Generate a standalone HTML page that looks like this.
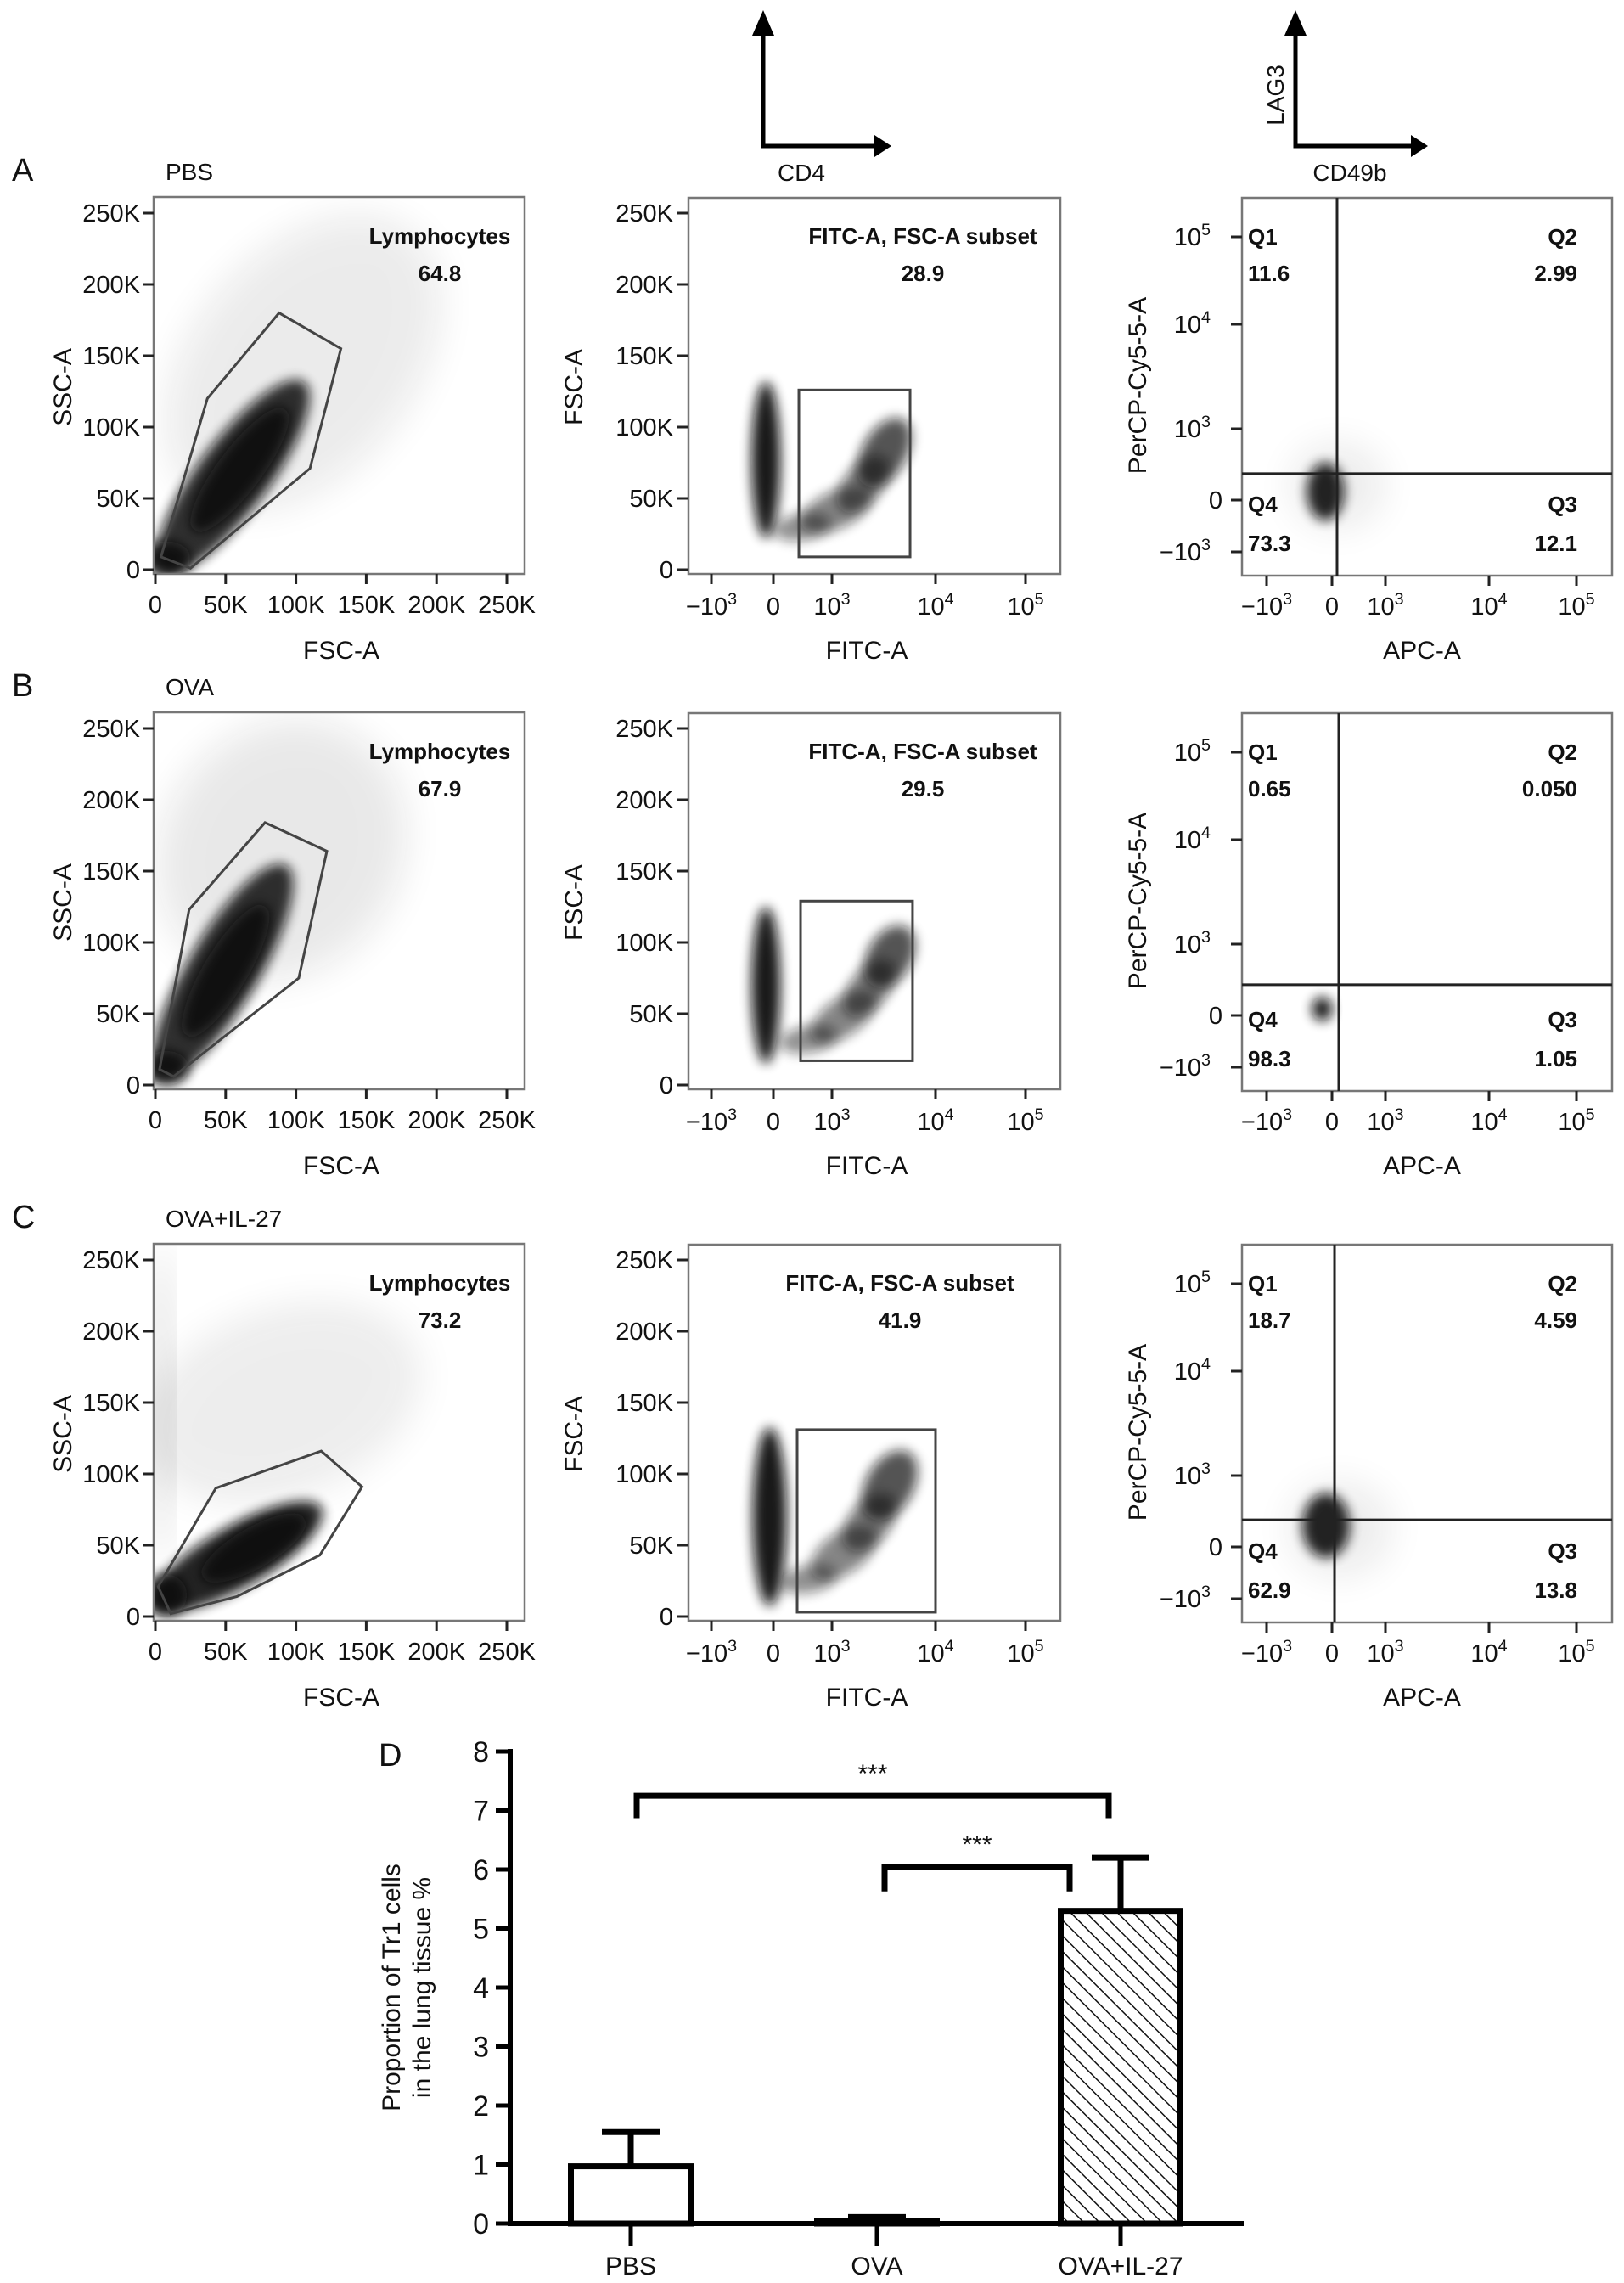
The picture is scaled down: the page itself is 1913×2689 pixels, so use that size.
<!DOCTYPE html>
<html><head><meta charset="utf-8">
<style>
html,body{margin:0;padding:0;background:#fff;}
svg{display:block;font-family:"Liberation Sans",Arial,sans-serif;}
</style></head>
<body>
<svg id="fig" width="1913" height="2689" viewBox="0 0 1913 2689" xmlns="http://www.w3.org/2000/svg">
<defs>
<filter id="blur" x="-50%" y="-50%" width="200%" height="200%"><feGaussianBlur stdDeviation="7"/></filter>
<filter id="blurBig" x="-50%" y="-50%" width="200%" height="200%"><feGaussianBlur stdDeviation="22"/></filter>
<pattern id="hatch" width="13" height="13" patternUnits="userSpaceOnUse" patternTransform="rotate(-45)">
<rect width="13" height="13" fill="#fff"/><line x1="0" y1="0" x2="0" y2="13" stroke="#111" stroke-width="3"/></pattern>
<clipPath id="clip1"><rect x="181" y="232" width="437" height="444"/></clipPath>
</defs>
</svg>
<script>
// ---------------- data ----------------
const rowOffsets=[0,607,1233];
const rowLetters=['A','B','C'];
const groups=['PBS','OVA','OVA+IL-27'];
const lymphPct=['64.8','67.9','73.2'];
const cd4Pct=['28.9','29.5','41.9'];
const q1Pct=['11.6','0.65','18.7'];
const q2Pct=['2.99','0.050','4.59'];
const q3Pct=['12.1','1.05','13.8'];
const q4Pct=['73.3','98.3','62.9'];
// lymphocyte gate polygons (FSC-A K, SSC-A K)
const lymphGates=[
 [[37,120],[88,180],[132,155],[110,71],[25,1],[4,9]],
 [[24,123],[78,184],[122,164],[102,75],[13,6],[3,11]],
 [[43,90],[118,116],[147,91],[117,43],[58,14],[11,2],[2,21]]
];
// density blobs: [x, y, rx, ry, rotation, opacity]
const lymphBlobs=[
 [[105,145,200,130,-50,0.08],[55,65,140,42,-53,0.85],[60,70,90,26,-53,0.9],[8,8,28,20,0,0.9]],
 [[90,165,160,140,-55,0.09],[48,80,145,42,-59,0.85],[50,80,90,26,-59,0.9],[8,12,26,20,0,0.9]],
 [[90,150,170,110,-20,0.07],[4,150,9,190,0,0.2],[58,42,115,36,-30,0.9],[70,48,70,24,-30,0.9],[8,15,24,24,0,0.9]]
];
const cd4Gates=[[435,5680,9,126],[464,6000,17,129],[406,10000,3,131]];
const cd4Blobs=[
 [[-120,77,17,92,0,0.95],[500,30,34,16,-10,0.45],[1100,42,45,22,-25,0.5],[2000,60,40,22,-50,0.55],[3200,82,45,26,-60,0.7]],
 [[-120,70,17,92,0,0.95],[600,32,34,16,-10,0.45],[1300,48,45,22,-35,0.5],[2300,68,40,22,-50,0.55],[3600,90,40,26,-60,0.7]],
 [[-60,70,20,105,0,0.95],[600,26,34,16,-10,0.45],[1300,45,45,24,-35,0.5],[2300,66,40,24,-50,0.55],[3600,92,45,28,-60,0.7]]
];
const quadGates=[[95,370],[127,430],[48,380]];
const apcBlobs=[
 [[100,200,55,50,0,0.08],[-100,120,22,34,0,0.9]],
 [[-150,90,12,14,0,0.95]],
 [[150,250,60,55,0,0.08],[-90,300,28,38,0,0.9]]
];
// log-axis ticks
const logTickVals=[-1000,0,1000,10000,100000];
const logTickExp=['3','','3','4','5'];
const col2XTicksPx=[838,911,980,1102,1208];
const col3XTicksPx=[1492,1569,1632,1754,1857];
const col3YTicksPx=[650,589,505,382,279];
const linTicks=[0,50,100,150,200,250];
// bar chart
const barCats=['PBS','OVA','OVA+IL-27'];
const barVals=[0.97,0.05,5.3];
const barErr=[0.58,0.06,0.9];
const yTicks=[0,1,2,3,4,5,6,7,8];
const sigPairs=[[0,2],[1,2]];
const sigLevels=[7.25,6.05];
const sigLabels=['***','***'];

// ---------------- helpers ----------------
const NS='http://www.w3.org/2000/svg';
const svg=document.getElementById('fig');
function mk(tag,attrs,parent){const e=document.createElementNS(NS,tag);for(const k in attrs)e.setAttribute(k,attrs[k]);(parent||svg).appendChild(e);return e;}
function txt(s,x,y,size,anchor,parent,weight){const t=mk('text',{x:x,y:y,'font-size':size,'text-anchor':anchor||'start',fill:'#111'},parent);if(weight)t.setAttribute('font-weight',weight);t.textContent=s;return t;}
function pw(s,x,y,size,anchor,exp,parent){const t=mk('text',{x:x,y:y,'font-size':size,'text-anchor':anchor,fill:'#111'},parent);
 if(exp===''){t.textContent=s;return t;}
 t.appendChild(document.createTextNode(s));const ts=mk('tspan',{dy:-12,'font-size':size*0.68},t);ts.textContent=exp;return t;}
function interp(v,vals,px){
 if(v<=vals[1]){return px[1]+(v-vals[1])/(vals[1]-vals[0])*(px[1]-px[0]);}
 if(v<=vals[2]){return px[1]+(v/vals[2])*(px[2]-px[1]);}
 const lv=Math.log10(v);
 if(lv<=4)return px[2]+(lv-3)*(px[3]-px[2]);
 return px[3]+(lv-4)*(px[4]-px[3]);}
const c1x=v=>183+v*1.656;
const c1y=v=>671-v*1.68;
const c2x=v=>interp(v,logTickVals,col2XTicksPx);
const c3x=v=>interp(v,logTickVals,col3XTicksPx);
const c3y=v=>interp(v,logTickVals,col3YTicksPx);

function blob(g,cx,cy,b,name){
 const e=mk('ellipse',{cx:cx,cy:cy,rx:b[2],ry:b[3],fill:'#111',opacity:b[5],transform:'rotate('+b[4]+' '+cx+' '+cy+')',filter:(b[5]<0.3?'url(#blurBig)':'url(#blur)')},g);
 
 
}

// ---------------- header arrows ----------------
const hdr=mk('g',{});


[[899,1030,'CD4',944],[1526,1662,'CD49b',1590]].forEach((a,i)=>{
 const p=mk('path',{d:'M'+a[0]+' 40 V172 H'+a[1],fill:'none',stroke:'#000','stroke-width':5},hdr);
 
 
 mk('polygon',{points:(a[0]-13)+',42 '+(a[0]+13)+',42 '+a[0]+',12',fill:'#000'},hdr);
 mk('polygon',{points:(a[1])+',159 '+(a[1])+',185 '+(a[1]+20)+',172',fill:'#000'},hdr);
 const t=txt(a[2],a[3],213,28,'middle',hdr);
 
 
});
const lag=txt('LAG3',0,0,28,'middle',hdr);
lag.setAttribute('transform','translate(1512,112) rotate(-90)');



// ---------------- flow rows ----------------
rowOffsets.forEach((off,r)=>{
 const row=mk('g',{transform:'translate(0,'+off+')'});
 
 
 const L=txt(rowLetters[r],14,213,38,'start',row);
 
 
 const G=txt(groups[r],195,212,28,'start',row);
 
 

 // ---- column 1 ----
 const p1=mk('g',{},row);
 
 
 const d1=mk('g',{'clip-path':'url(#clip1)'},p1);
 lymphBlobs[r].forEach(b=>blob(d1,c1x(b[0]),c1y(b[1]),b,'event-density'));
 const bx1=mk('rect',{x:181,y:232,width:437,height:444,fill:'none',stroke:'#777','stroke-width':2.5},p1);
 
 
 const gp=mk('polygon',{points:lymphGates[r].map(p=>c1x(p[0])+','+c1y(p[1])).join(' '),fill:'none',stroke:'#444','stroke-width':3},p1);
 
 
 linTicks.forEach(v=>{
  mk('line',{x1:c1x(v),x2:c1x(v),y1:676,y2:688,stroke:'#222','stroke-width':3},p1);
  mk('line',{x1:168,x2:181,y1:c1y(v),y2:c1y(v),stroke:'#222','stroke-width':3},p1);
  const xl=txt(v===0?'0':v+'K',c1x(v),722,29,'middle',p1);
  
  
  const yl=txt(v===0?'0':v+'K',165,c1y(v)+10,29,'end',p1);
  
  
 });
 const t1=txt('Lymphocytes',518,287,26,'middle',p1,'bold');
 
 
 const t2=txt(lymphPct[r],518,331,26,'middle',p1,'bold');
 
 
 const xt=txt('FSC-A',402,776,30,'middle',p1);
 
 
 const yt=txt('SSC-A',0,0,30,'middle',p1);
 yt.setAttribute('transform','translate(84,456) rotate(-90)');
 
 

 // ---- column 2 ----
 const p2=mk('g',{},row);
 
 
 cd4Blobs[r].forEach(b=>blob(p2,c2x(b[0]),c1y(b[1]),b,'event-density'));
 const bx2=mk('rect',{x:811,y:233,width:438,height:443,fill:'none',stroke:'#777','stroke-width':2.5},p2);
 
 
 const cg=cd4Gates[r];
 const gr=mk('rect',{x:c2x(cg[0]),y:c1y(cg[3]),width:c2x(cg[1])-c2x(cg[0]),height:c1y(cg[2])-c1y(cg[3]),fill:'none',stroke:'#444','stroke-width':3},p2);
 
 
 linTicks.forEach(v=>{
  mk('line',{x1:798,x2:811,y1:c1y(v),y2:c1y(v),stroke:'#222','stroke-width':3},p2);
  const yl=txt(v===0?'0':v+'K',793,c1y(v)+10,29,'end',p2);
  
  
 });
 logTickVals.forEach((v,i)=>{
  mk('line',{x1:c2x(v),x2:c2x(v),y1:676,y2:688,stroke:'#222','stroke-width':3},p2);
  const xl=pw(v<0?'\u221210':(v===0?'0':'10'),c2x(v),724,29,'middle',logTickExp[i],p2);
  
  
 });
 const cx2=r===2?1060:1087;
 const s1=txt('FITC-A, FSC-A subset',cx2,287,26,'middle',p2,'bold');
 
 
 const s2=txt(cd4Pct[r],cx2,331,26,'middle',p2,'bold');
 
 
 const xt2=txt('FITC-A',1021,776,30,'middle',p2);
 
 
 const yt2=txt('FSC-A',0,0,30,'middle',p2);
 yt2.setAttribute('transform','translate(686,456) rotate(-90)');
 
 

 // ---- column 3 ----
 const p3=mk('g',{},row);
 
 
 apcBlobs[r].forEach(b=>blob(p3,c3x(b[0]),c3y(b[1]),b,'event-density'));
 const bx3=mk('rect',{x:1463,y:233,width:436,height:445,fill:'none',stroke:'#777','stroke-width':2.5},p3);
 
 
 const qg=quadGates[r];
 const qv=mk('line',{x1:c3x(qg[0]),x2:c3x(qg[0]),y1:233,y2:678,stroke:'#222','stroke-width':3},p3);
 
 
 const qh=mk('line',{x1:1463,x2:1899,y1:c3y(qg[1]),y2:c3y(qg[1]),stroke:'#222','stroke-width':3},p3);
 
 
 logTickVals.forEach((v,i)=>{
  mk('line',{x1:c3x(v),x2:c3x(v),y1:678,y2:690,stroke:'#222','stroke-width':3},p3);
  mk('line',{x1:1450,x2:1463,y1:c3y(v),y2:c3y(v),stroke:'#222','stroke-width':3},p3);
  const xl=pw(v<0?'\u221210':(v===0?'0':'10'),c3x(v),724,29,'middle',logTickExp[i],p3);
  
  
  const yl=pw(v<0?'\u221210':(v===0?'0':'10'),v===0?1440:1426,c3y(v)+10,29,'end',logTickExp[i],p3);
  
  
 });
 [['Q1',1470,288,'start'],[q1Pct[r],1470,331,'start'],['Q2',1858,288,'end'],[q2Pct[r],1858,331,'end'],
  ['Q4',1470,603,'start'],[q4Pct[r],1470,649,'start'],['Q3',1858,603,'end'],[q3Pct[r],1858,649,'end']].forEach(q=>{
  const t=txt(q[0],q[1],q[2],26,q[3],p3,'bold');
  
  
 });
 const xt3=txt('APC-A',1675,776,30,'middle',p3);
 
 
 const yt3=txt('PerCP-Cy5-5-A',0,0,30,'middle',p3);
 yt3.setAttribute('transform','translate(1350,454) rotate(-90)');
 
 
});

// ---------------- bar chart D ----------------
const bc=mk('g',{});


const by=v=>2619-v*69.5;
const catX=[743,1033,1320];
const barW=141;
const D=txt('D',446,2080,38,'start',bc);


const ya=mk('line',{x1:601,x2:601,y1:by(8)-3,y2:by(0)+3,stroke:'#000','stroke-width':6},bc);


yTicks.forEach(v=>{
 mk('line',{x1:584,x2:601,y1:by(v),y2:by(v),stroke:'#000','stroke-width':5},bc);
 const t=txt(String(v),576,by(v)+12,34,'end',bc);
 
 
});
barCats.forEach((c,i)=>{
 const x=catX[i];
 const e=mk('path',{d:'M'+x+' '+by(barVals[i])+' V'+by(barVals[i]+barErr[i])+' M'+(x-34)+' '+by(barVals[i]+barErr[i])+' H'+(x+34),stroke:'#000','stroke-width':7,fill:'none'},bc);
 
 
 const b=mk('rect',{x:x-barW/2,y:by(barVals[i]),width:barW,height:by(0)-by(barVals[i]),fill:i===2?'url(#hatch)':'#fff',stroke:'#000','stroke-width':7},bc);
 
 
 mk('line',{x1:x,x2:x,y1:by(0),y2:by(0)+26,stroke:'#000','stroke-width':5},bc);
 const l=txt(c,x,2679,30,'middle',bc);
 
 
});
const xa=mk('line',{x1:598,x2:1465,y1:by(0),y2:by(0),stroke:'#000','stroke-width':6},bc);


const bracketOffsets=[[7,-14],[9,-60]];
sigPairs.forEach((p,i)=>{
 const x1=catX[p[0]]+bracketOffsets[i][0], x2=catX[p[1]]+bracketOffsets[i][1];
 const yv=by(sigLevels[i]), yd=by(sigLevels[i]-(i===0?0.38:0.42));
 const br=mk('path',{d:'M'+x1+' '+yd+' V'+yv+' H'+x2+' V'+yd,fill:'none',stroke:'#000','stroke-width':7},bc);
 
 
 const s=txt(sigLabels[i],(x1+x2)/2,yv-16,30,'middle',bc);
 
 
});
const yl1=txt('Proportion of Tr1 cells',0,0,30,'middle',bc);
yl1.setAttribute('transform','translate(471,2341) rotate(-90)');


const yl2=txt('in the lung tissue %',0,0,30,'middle',bc);
yl2.setAttribute('transform','translate(507,2341) rotate(-90)');


</script>
</body></html>
